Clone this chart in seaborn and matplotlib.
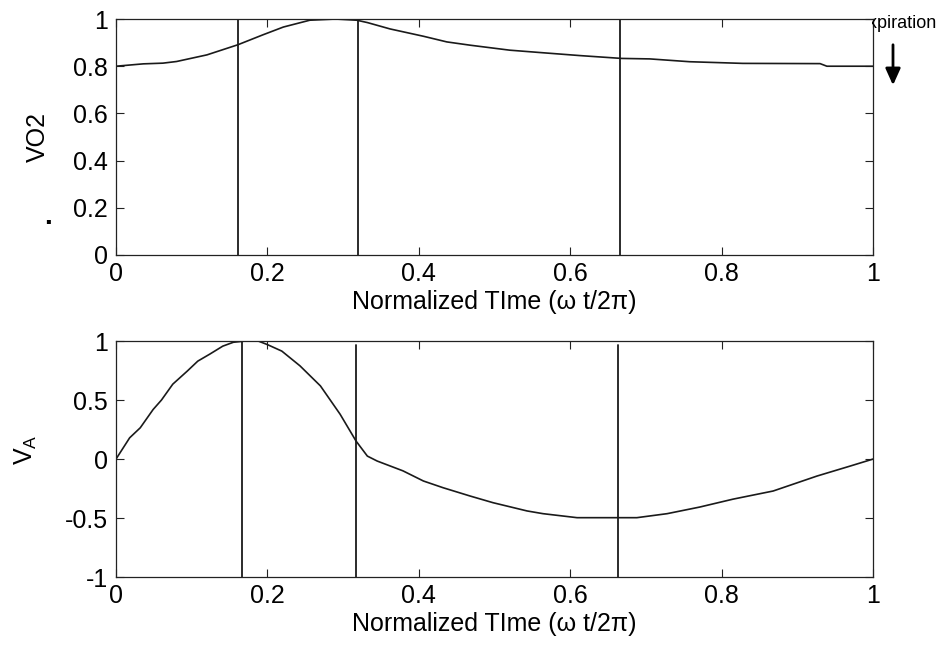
import matplotlib
matplotlib.use("Agg")
import matplotlib.pyplot as plt
from matplotlib.patches import Rectangle
import seaborn as sns
import pandas as pd

# ---- data ----
vo2_t = [0, 0.036, 0.062, 0.08, 0.12, 0.161, 0.194, 0.221, 0.256, 0.29, 0.318,
         0.332, 0.362, 0.406, 0.437, 0.468, 0.52, 0.56, 0.613, 0.668, 0.705,
         0.758, 0.828, 0.93, 0.939, 1.0]
vo2 = [0.80, 0.81, 0.813, 0.82, 0.848, 0.891, 0.933, 0.966, 0.995, 1.0, 0.995,
       0.985, 0.958, 0.927, 0.903, 0.889, 0.868, 0.858, 0.845, 0.833, 0.831,
       0.819, 0.812, 0.811, 0.80, 0.80]

va_t = [0, 0.018, 0.032, 0.049, 0.06, 0.075, 0.094, 0.108, 0.124, 0.141, 0.155,
        0.17, 0.188, 0.2, 0.219, 0.243, 0.27, 0.296, 0.317, 0.332, 0.345,
        0.379, 0.406, 0.432, 0.468, 0.498, 0.543, 0.564, 0.609, 0.688, 0.728,
        0.771, 0.815, 0.868, 0.926, 0.97, 1.0]
va = [0.0, 0.18, 0.265, 0.42, 0.50, 0.635, 0.745, 0.83, 0.89, 0.957, 0.99,
      1.0, 1.0, 0.97, 0.915, 0.79, 0.62, 0.38, 0.153, 0.025, -0.017,
      -0.10, -0.186, -0.243, -0.314, -0.37, -0.44, -0.463, -0.497, -0.497, -0.463,
      -0.407, -0.34, -0.271, -0.144, -0.059, 0.0]

vlines_top = [0.161, 0.32, 0.666]
vlines_bot = [0.166, 0.317, 0.663]

x_ticks = [0, 0.2, 0.4, 0.6, 0.8, 1]
x_ticklabels = ["0", "0.2", "0.4", "0.6", "0.8", "1"]
top_yticks = [0, 0.2, 0.4, 0.6, 0.8, 1]
top_yticklabels = ["0", "0.2", "0.4", "0.6", "0.8", "1"]
bot_yticks = [-1, -0.5, 0, 0.5, 1]
bot_yticklabels = ["-1", "-0.5", "0", "0.5", "1"]

xlabel = "Normalized TIme (\u03c9 t/2\u03c0)"

# ---- style ----
sns.set_style("ticks")
plt.rcParams["font.family"] = ["Liberation Sans", "DejaVu Sans"]
plt.rcParams["xtick.direction"] = "in"
plt.rcParams["ytick.direction"] = "in"
plt.rcParams["xtick.top"] = True
plt.rcParams["ytick.right"] = True
plt.rcParams["text.color"] = "black"
plt.rcParams["axes.labelcolor"] = "black"
plt.rcParams["xtick.labelcolor"] = "black"
plt.rcParams["ytick.labelcolor"] = "black"

fig = plt.figure(figsize=(9.41, 6.45), dpi=100)
ax1 = fig.add_axes([0.1233, 0.6047, 0.8045, 0.3658])
ax2 = fig.add_axes([0.1233, 0.1054, 0.8045, 0.3658])

df1 = pd.DataFrame({"t": vo2_t, "v": vo2})
df2 = pd.DataFrame({"t": va_t, "v": va})

sns.lineplot(data=df1, x="t", y="v", ax=ax1, color="#1a1a1a", lw=1.2,
             estimator=None, sort=False)
sns.lineplot(data=df2, x="t", y="v", ax=ax2, color="#1a1a1a", lw=1.2,
             estimator=None, sort=False)

for xv in vlines_top:
    ax1.axvline(xv, color="#1a1a1a", lw=1.3)
for i, xv in enumerate(vlines_bot):
    ax2.axvline(xv, ymin=0, ymax=(1.0 if i == 0 else 0.985), color="#1a1a1a", lw=1.3)

for ax, yt, ytl, ylim in [(ax1, top_yticks, top_yticklabels, (0, 1)),
                          (ax2, bot_yticks, bot_yticklabels, (-1, 1))]:
    ax.set_xlim(0, 1)
    ax.set_ylim(*ylim)
    ax.set_xticks(x_ticks)
    ax.set_xticklabels(x_ticklabels)
    ax.set_yticks(yt)
    ax.set_yticklabels(ytl)
    ax.tick_params(labelsize=18, length=5.5, width=0.8, color="#222222",
                   labelcolor="black", pad=5)
    ax.tick_params(axis="y", pad=6)
    ax.set_xlabel(xlabel, fontsize=18, labelpad=3, color="black")
    for s in ax.spines.values():
        s.set_linewidth(0.9)
        s.set_color("#222222")

# y labels
ax1.set_ylabel("VO2", fontsize=18, color="black")
ax1.yaxis.set_label_coords(-0.087, 0.5)
fig.text(48 / 941, 1 - 217 / 645, ".", fontsize=20, ha="center", va="center",
         fontweight="bold", color="black")
ax2.set_ylabel("V$_\\mathregular{A}$", fontsize=18, color="black")
ax2.yaxis.set_label_coords(-0.102, 0.54)

# "Expiration" text clipped on its left side, and arrow
exp_txt = fig.text(857 / 941, 1 - 24 / 645, "Expiration", fontsize=13, ha="left",
                   va="center", color="black")
clip_rect = Rectangle((872 / 941, 0), 69 / 941, 1, transform=fig.transFigure,
                      facecolor="none", edgecolor="none")
exp_txt.set_clip_path(clip_rect)
ax1.annotate("", xy=(893 / 941, 1 - 88 / 645), xytext=(893 / 941, 1 - 42 / 645),
             xycoords="figure fraction", textcoords="figure fraction",
             arrowprops=dict(arrowstyle="-|>,head_width=0.45,head_length=1.0",
                             color="black", lw=2), annotation_clip=False)

fig.savefig("out.png", dpi=100)
